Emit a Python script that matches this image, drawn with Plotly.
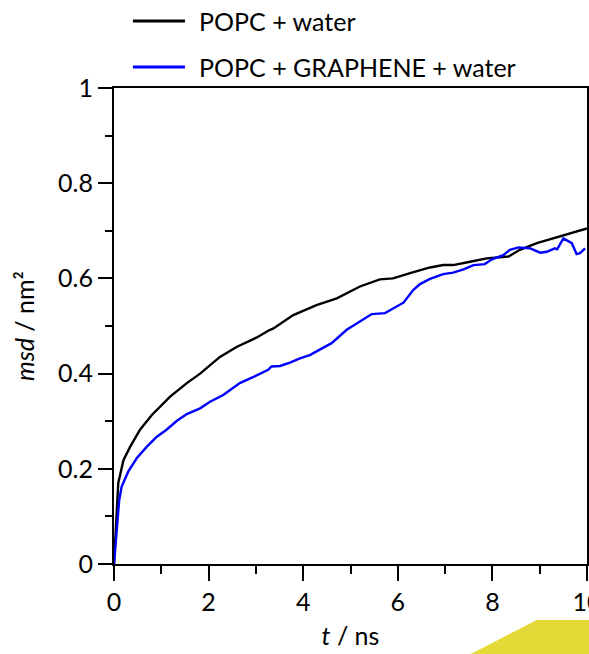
import plotly.graph_objects as go

# POPC + water
t_popc = [0, 0.09, 0.2, 0.34, 0.55, 0.8, 1.18, 1.54, 1.82, 2.24, 2.59, 3.02, 3.26, 3.37, 3.79, 4.28, 4.71,
          5.2, 5.62, 5.9, 6.26, 6.68, 6.96, 7.17, 7.53, 7.88, 8.34, 8.58, 8.94, 9.18, 9.5, 9.78, 10.0]
msd_popc = [0, 0.17, 0.218, 0.246, 0.282, 0.313, 0.351, 0.38, 0.40, 0.435, 0.456, 0.476, 0.49, 0.495, 0.523,
            0.544, 0.558, 0.583, 0.598, 0.60, 0.611, 0.623, 0.628, 0.628, 0.635, 0.642, 0.646, 0.66, 0.674,
            0.681, 0.689, 0.698, 0.705]

# POPC + GRAPHENE + water
t_gr = [0, 0.11, 0.16, 0.3, 0.48, 0.69, 0.9, 1.11, 1.33, 1.54, 1.82, 2.03, 2.31, 2.66, 2.95, 3.26, 3.33, 3.51,
        3.72, 3.93, 4.14, 4.36, 4.6, 4.92, 5.2, 5.45, 5.73, 5.9, 6.12, 6.33, 6.47, 6.68, 6.96, 7.17, 7.39,
        7.6, 7.84, 7.99, 8.23, 8.37, 8.55, 8.8, 9.01, 9.15, 9.32, 9.37, 9.5, 9.68, 9.78, 9.85, 9.96]
msd_gr = [0, 0.134, 0.162, 0.194, 0.222, 0.246, 0.267, 0.282, 0.301, 0.315, 0.327, 0.341, 0.355, 0.38, 0.393,
          0.408, 0.415, 0.416, 0.423, 0.432, 0.439, 0.451, 0.464, 0.492, 0.509, 0.525, 0.527, 0.537, 0.549,
          0.576, 0.588, 0.599, 0.609, 0.612, 0.619, 0.628, 0.63, 0.64, 0.649, 0.66, 0.665, 0.663, 0.654,
          0.656, 0.663, 0.661, 0.684, 0.674, 0.651, 0.653, 0.663]

x_ticks = [0, 2, 4, 6, 8, 10]
y_ticks = [0, 0.2, 0.4, 0.6, 0.8, 1]
y_labels = ["0", "0.2", "0.4", "0.6", "0.8", "1"]

series = [("POPC + water", t_popc, msd_popc, "#000000"),
          ("POPC + GRAPHENE + water", t_gr, msd_gr, "#0000FF")]

FONT = "Lato"
fig = go.Figure()
for name, xs, ys, col in series:
    fig.add_trace(go.Scatter(x=xs, y=ys, mode="lines", name=name,
                             line=dict(color=col, width=2.4), showlegend=False))

axis_common = dict(showgrid=False, zeroline=False, showline=True, linecolor="black", linewidth=2,
                   mirror=True, ticks="outside", tickcolor="black", tickwidth=2,
                   ticklabeloverflow="allow", automargin=False,
                   tickfont=dict(family=FONT, size=25, color="black"))

fig.update_xaxes(range=[0, 10], tickvals=x_ticks, ticktext=[str(v) for v in x_ticks], ticklen=15,
                 minor=dict(dtick=1, ticks="outside", ticklen=8, tickwidth=2, tickcolor="black"),
                 title=dict(text="<i>t</i> / ns", font=dict(family=FONT, size=25, color="black"), standoff=12),
                 **axis_common)
fig.update_yaxes(range=[0, 1], tickvals=y_ticks, ticktext=y_labels, ticklen=14,
                 minor=dict(dtick=0.1, ticks="outside", ticklen=7, tickwidth=2, tickcolor="black"),
                 title=dict(text="<i>msd</i> / nm²", font=dict(family=FONT, size=25, color="black"), standoff=16),
                 **axis_common)

# manual legend
leg_y = [1.1408, 1.0441]
for (name, xs, ys, col), ly in zip(series, leg_y):
    fig.add_shape(type="line", xref="paper", yref="paper", x0=0.040, x1=0.150, y0=ly, y1=ly,
                  line=dict(color=col, width=3))
    fig.add_annotation(xref="paper", yref="paper", x=0.1755, y=ly, text=name, showarrow=False,
                       xanchor="left", yanchor="middle", font=dict(family=FONT, size=25, color="black"))

# yellow decoration at bottom right
fig.add_shape(type="path", xref="paper", yref="paper",
              path="M 0.894 -0.1176 L 1.01 -0.1176 L 1.01 -0.19 L 0.7526 -0.19 Z",
              fillcolor="#E4D936", line=dict(width=0), layer="above")

fig.update_layout(width=589, height=654, margin=dict(l=114, r=2, t=88, b=90, autoexpand=False),
                  plot_bgcolor="white", paper_bgcolor="white", showlegend=False)

fig.write_html("out.html")
